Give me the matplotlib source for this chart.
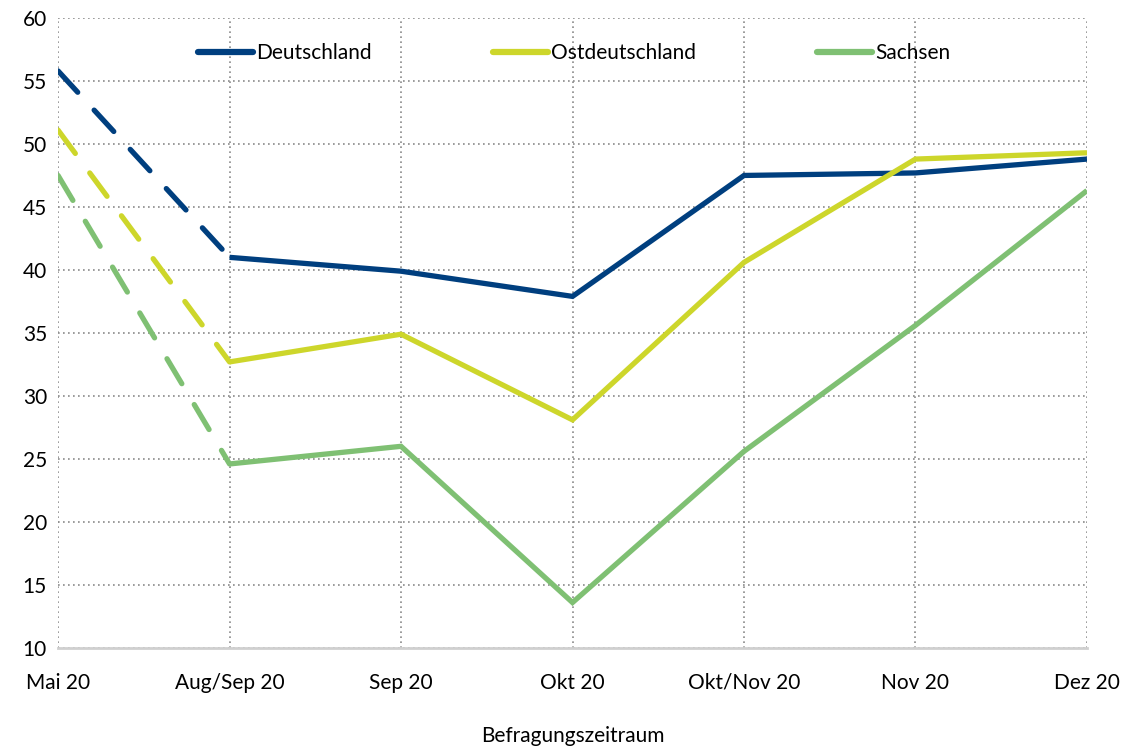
import matplotlib.pyplot as plt

plt.rcParams['font.family'] = ['Lato', 'DejaVu Sans']

zeitraum = ['Mai 20', 'Aug/Sep 20', 'Sep 20', 'Okt 20', 'Okt/Nov 20', 'Nov 20', 'Dez 20']
deutschland = [55.8, 41.0, 39.9, 37.9, 47.5, 47.7, 48.8]
ostdeutschland = [51.1, 32.7, 34.9, 28.1, 40.6, 48.8, 49.3]
sachsen = [47.5, 24.6, 26.0, 13.6, 25.6, 35.6, 46.3]

farben = {'Deutschland': '#003f7f', 'Ostdeutschland': '#cdd62b', 'Sachsen': '#7fc073'}
reihen = {'Deutschland': deutschland, 'Ostdeutschland': ostdeutschland, 'Sachsen': sachsen}

fig = plt.figure(figsize=(11.25, 7.49), dpi=100)
ax = fig.add_axes([0.0516, 0.135, 0.9146, 0.841])

x = list(range(len(zeitraum)))
for name, werte in reihen.items():
    c = farben[name]
    # erster Abschnitt gestrichelt
    ax.plot(x[:2], werte[:2], color=c, lw=3.8, dashes=(5.5, 4.6),
            dash_capstyle='round', solid_capstyle='round')
    ax.plot(x[1:], werte[1:], color=c, lw=3.8, label=name,
            solid_joinstyle='miter', solid_capstyle='butt')

ax.set_xlim(0, 6)
ax.set_ylim(10, 60)
ax.set_yticks(range(10, 61, 5))
ax.set_xticks(x)
ax.set_xticklabels(zeitraum)
ax.tick_params(length=0, labelsize=15, colors='black')
ax.tick_params(axis='x', pad=18)
ax.tick_params(axis='y', pad=8)

ax.grid(True, color='#8a8a8a', linestyle=(0, (1, 2)), lw=1.2)
ax.set_axisbelow(True)
for s in ['left', 'right', 'top']:
    ax.spines[s].set_visible(False)
ax.spines['bottom'].set_color('#d0d0d0')
ax.spines['bottom'].set_linewidth(2)

ax.set_xlabel('Befragungszeitraum', fontsize=15, labelpad=24)

leg = ax.legend(loc='upper left', bbox_to_anchor=(0.118, 0.99), ncol=3, frameon=False,
                fontsize=15, handlelength=2.65, handletextpad=0.15, columnspacing=5.8)
for l in leg.get_lines():
    l.set_linewidth(4.5)
    l.set_solid_capstyle('round')

fig.savefig('out.png', dpi=100)
